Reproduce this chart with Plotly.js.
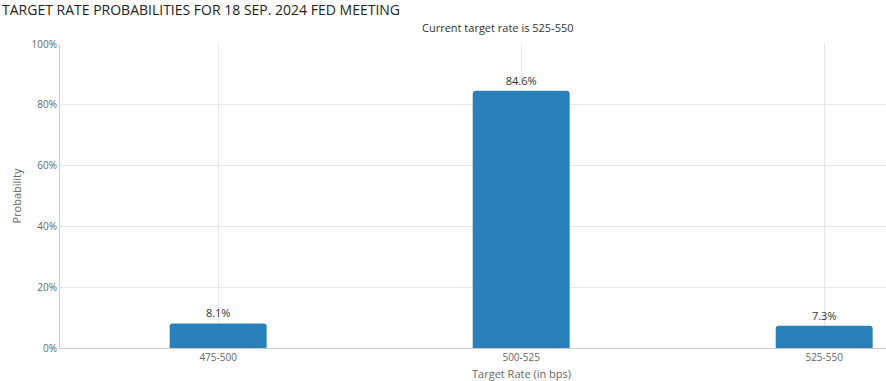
<!DOCTYPE html>
<html><head><meta charset="utf-8">
<script src="https://cdn.plot.ly/plotly-3.0.1.min.js"></script>
<style>html,body{margin:0;padding:0;background:#fff;}#chart{width:886px;height:381px;}</style>
</head><body><div id="chart"></div>
<script>
const categories = ["475-500", "500-525", "525-550"];
const probabilities = [8.1, 84.6, 7.3];
const labels = ["8.1%", "84.6%", "7.3%"];
const yTicks = [0, 20, 40, 60, 80, 100];
const yTickText = ["0%", "20%", "40%", "60%", "80%", "100%"];

const font = "Open Sans, Lato, sans-serif";
Plotly.newPlot("chart", [{
  type: "bar",
  x: categories,
  y: probabilities,
  text: labels,
  textposition: "outside",
  cliponaxis: false,
  textfont: {family: font, size: 11, color: "#333"},
  marker: {color: "#2a80b9", cornerradius: 3},
  width: 0.32,
  hoverinfo: "x+y"
}], {
  width: 886, height: 381,
  margin: {l: 60, r: 0, t: 44, b: 33},
  paper_bgcolor: "#fff", plot_bgcolor: "#fff",
  font: {family: font, color: "#666"},
  showlegend: false,
  xaxis: {
    type: "category",
    range: [-0.522, 2.204],
    showgrid: true, gridcolor: "#e6e6e6",
    showline: true, linecolor: "#ccc", linewidth: 1,
    ticks: "", tickfont: {size: 10, color: "#666"},
    fixedrange: true
  },
  yaxis: {
    range: [0, 100],
    tickvals: yTicks, ticktext: yTickText,
    showgrid: true, gridcolor: "#e6e6e6",
    showline: true, linecolor: "#ccc", linewidth: 1,
    zeroline: false,
    ticks: "", tickfont: {size: 10, color: "#666"},
    title: {text: "Probability", font: {size: 11, color: "#666"}, standoff: 7},
    fixedrange: true
  },
  annotations: [
    {text: "TARGET RATE PROBABILITIES FOR 18 SEP. 2024 FED MEETING", xref: "paper", yref: "paper",
     x: -60/826, y: 1, yshift: 35, xanchor: "left", yanchor: "middle", showarrow: false,
     font: {family: font, size: 14, color: "#222"}},
    {text: "Current target rate is 525-550", xref: "paper", yref: "paper",
     x: (498-60)/826, y: 1, yshift: 17, xanchor: "center", yanchor: "middle", showarrow: false,
     font: {family: font, size: 11, color: "#333"}},
    {text: "Target Rate (in bps)", xref: "paper", yref: "paper",
     x: (521-60)/826, y: 0, yshift: -25, xanchor: "center", yanchor: "middle", showarrow: false,
     font: {family: font, size: 11, color: "#666"}}
  ]
}, {displayModeBar: false, staticPlot: true});
</script></body></html>
